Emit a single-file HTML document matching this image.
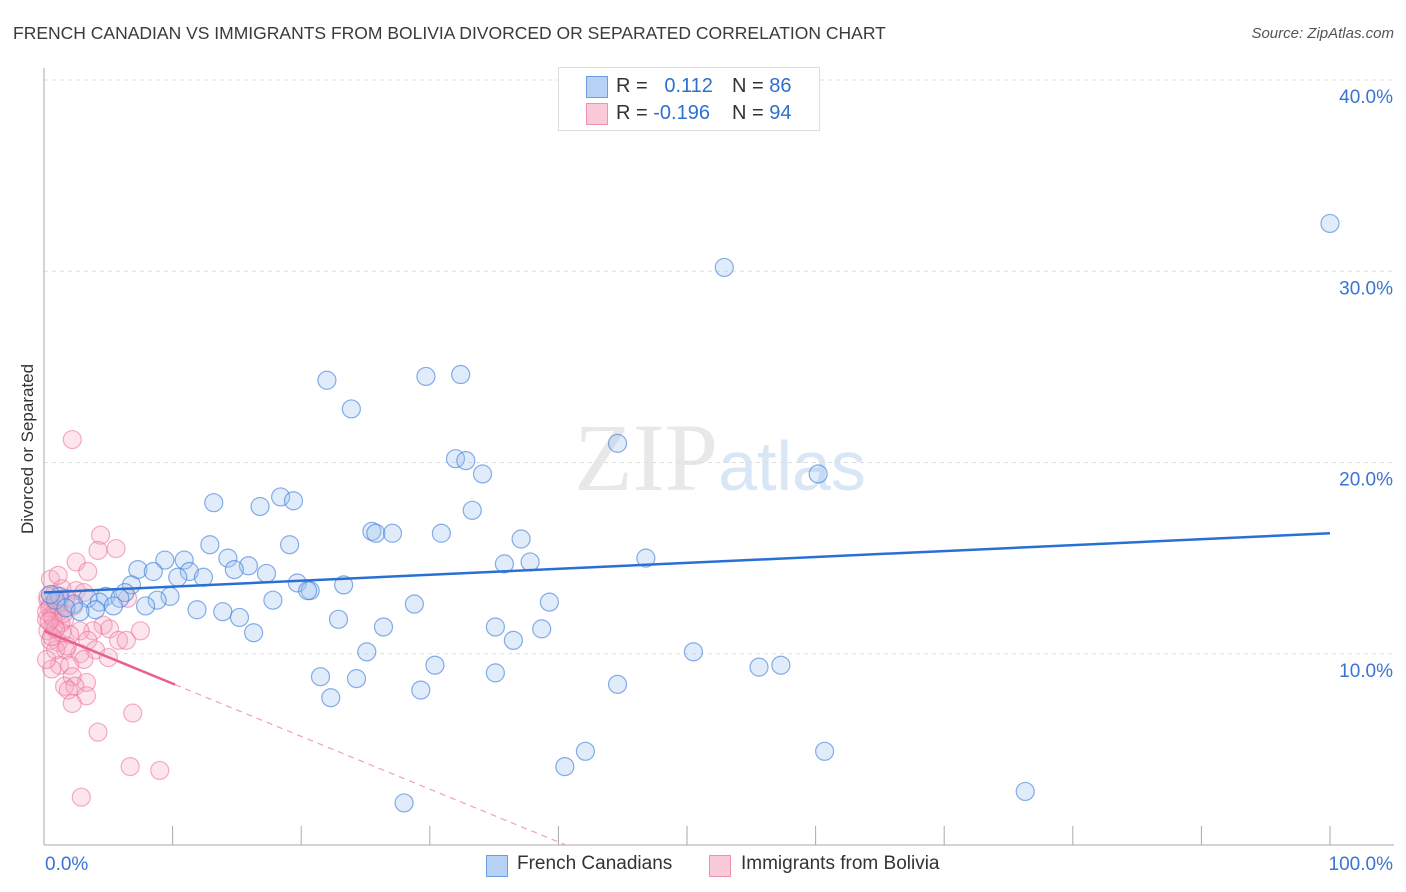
<!DOCTYPE html>
<html><head><meta charset="utf-8"><style>
body{margin:0;background:#fff;font-family:"Liberation Sans",sans-serif}
#wrap{position:relative;width:1406px;height:892px;overflow:hidden}
.t{position:absolute;white-space:nowrap}
</style></head><body>
<div id="wrap">
<div class="t" style="left:13px;top:23px;font-size:17.5px;color:#3a3a3a">FRENCH CANADIAN VS IMMIGRANTS FROM BOLIVIA DIVORCED OR SEPARATED CORRELATION CHART</div>
<div class="t" style="right:12px;top:25px;font-size:15px;color:#555;font-style:italic">Source: ZipAtlas.com</div>
<div class="t" style="left:-52px;top:444px;font-size:17px;color:#333;transform:rotate(-90deg);width:160px;text-align:center">Divorced or Separated</div>
<svg id="plot" width="1406" height="892" style="position:absolute;left:0;top:0">
<text x="720" y="490" text-anchor="middle" font-size="96" font-family="Liberation Serif" fill="#e8e8e8">ZIP<tspan font-family="Liberation Sans" font-size="70" fill="#d8e6f6">atlas</tspan></text>
</svg>
<div style="position:absolute;left:558px;top:67px;width:260px;height:62px;border:1px solid #ddd;background:#fff;font-size:20px;color:#333">
<div style="position:absolute;left:27px;top:8px;width:20px;height:20px;background:#b7d2f5;border:1px solid #6a9ee0"></div>
<div class="t" style="left:57px;top:7px">R = &nbsp;&nbsp;<span style="color:#2e6fd0">0.112</span></div>
<div class="t" style="left:173px;top:7px">N = <span style="color:#2e6fd0">86</span></div>
<div style="position:absolute;left:27px;top:35px;width:20px;height:20px;background:#fbcad8;border:1px solid #ef93ad"></div>
<div class="t" style="left:57px;top:34px">R = <span style="color:#2e6fd0">-0.196</span></div>
<div class="t" style="left:173px;top:34px">N = <span style="color:#2e6fd0">94</span></div>
</div>
<div style="position:absolute;left:486px;top:853px;font-size:19px;color:#333">
<div style="position:absolute;left:0;top:2px;width:20px;height:20px;background:#b7d2f5;border:1px solid #6a9ee0"></div>
<div class="t" style="left:31px;top:0">French Canadians</div>
<div style="position:absolute;left:223px;top:2px;width:20px;height:20px;background:#fbcad8;border:1px solid #ef93ad"></div>
<div class="t" style="left:255px;top:0">Immigrants from Bolivia</div>
</div>
</div>
<script>
const blueX=[100,52.9,22.0,29.7,32.4,23.9,44.6,32.0,32.8,34.1,60.2,18.4,19.4,13.2,16.8,33.3,25.5,25.8,27.1,30.9,37.1,12.9,19.1,46.8,10.9,14.3,9.4,15.9,35.8,37.8,7.3,8.5,14.8,11.3,17.3,10.4,12.4,6.8,19.7,23.3,20.7,20.5,6.3,4.8,5.9,3.4,1.2,9.8,8.8,17.8,4.3,5.4,7.9,39.3,28.8,2.3,4.0,11.9,13.9,15.2,22.9,26.4,35.1,38.7,16.3,36.5,25.1,50.5,55.6,57.3,30.4,35.1,21.5,24.3,29.3,44.6,22.3,42.1,60.7,40.5,76.3,28.0,0.9,0.5,1.7,2.8];
const blueY=[32.5,30.2,24.3,24.5,24.6,22.8,21.0,20.2,20.1,19.4,19.4,18.2,18.0,17.9,17.7,17.5,16.4,16.3,16.3,16.3,16.0,15.7,15.7,15.0,14.9,15.0,14.9,14.6,14.7,14.8,14.4,14.3,14.4,14.3,14.2,14.0,14.0,13.6,13.7,13.6,13.3,13.3,13.2,13.0,12.9,12.9,13.0,13.0,12.8,12.8,12.7,12.5,12.5,12.7,12.6,12.6,12.3,12.3,12.2,11.9,11.8,11.4,11.4,11.3,11.1,10.7,10.1,10.1,9.3,9.4,9.4,9.0,8.8,8.7,8.1,8.4,7.7,4.9,4.9,4.1,2.8,2.2,12.8,13.1,12.4,12.2];
const pinkX=[2.2,4.4,4.2,5.6,2.5,3.4,0.5,1.4,2.5,3.1,0.3,6.5,2.3,7.5,4.6,5.1,3.8,2.8,5.8,6.4,3.4,1.1,1.7,2.8,4.0,3.1,5.0,1.2,2.0,0.6,2.2,3.3,1.6,2.4,1.9,3.3,2.2,6.9,4.2,6.7,9.0,2.9,0.5,0.6,0.8,0.3,0.9,1.2,1.6,0.5,0.9,0.2,1.2,1.7,2.0,1.4,0.8,0.2,1.1,0.4,0.7,1.0,1.3,0.3,0.6,1.5,0.9,0.2,1.8,0.4];
const pinkY=[21.2,16.2,15.4,15.5,14.8,14.3,13.9,13.4,13.3,13.2,12.8,12.9,12.5,11.2,11.5,11.3,11.2,11.2,10.7,10.7,10.7,10.6,10.2,10.0,10.2,9.7,9.8,9.4,9.4,9.2,8.8,8.5,8.3,8.3,8.1,7.8,7.4,6.9,5.9,4.1,3.9,2.5,12.5,12.0,11.5,11.2,12.3,12.2,11.8,10.7,10.2,9.7,12.8,12.9,11.0,11.1,13.1,11.8,14.1,12.4,11.9,12.6,11.6,13.0,10.9,12.1,11.3,12.2,10.4,11.7];
const blueTrend=[13.2,16.3];
const pinkTrend=[11.2,-0.276];
const xTicks=["0.0%","100.0%"];
const yTicks=[10,20,30,40];
const yTickLabels=["10.0%","20.0%","30.0%","40.0%"];
const NS="http://www.w3.org/2000/svg";
const svg=document.getElementById('plot');
const sx=v=>44+v*12.86, sy=v=>845-v*19.125;
function mk(t,a){const e=document.createElementNS(NS,t);for(const k in a)e.setAttribute(k,a[k]);svg.appendChild(e);return e;}
yTicks.forEach((v,i)=>{
 const g=mk('line',{x1:44,x2:1394,y1:sy(v),y2:sy(v),stroke:'#ddd','stroke-dasharray':'4,4'});
 
 
 const t=mk('text',{x:1393,y:sy(v)+23,'text-anchor':'end','font-size':19,fill:'#3a74d0'});
 t.textContent=yTickLabels[i];
 
 
});
const ax=mk('line',{x1:44,x2:44,y1:68,y2:845,stroke:'#aaa'});


const bx=mk('line',{x1:44,x2:1394,y1:845,y2:845,stroke:'#aaa'});


for(let i=0;i<=10;i++){
 const tk=mk('line',{x1:sx(i*10),x2:sx(i*10),y1:826,y2:845,stroke:'#aaa'});
 
 
}
[[0,'start',45],[100,'end',1393]].forEach((d,i)=>{
 const t=mk('text',{x:d[2],y:870,'text-anchor':d[1],'font-size':19,fill:'#3a74d0'});
 t.textContent=xTicks[i];
 
 
});
pinkX.forEach((x,i)=>{
 const c=mk('circle',{cx:sx(x),cy:sy(pinkY[i]),r:9,fill:'rgba(246,170,195,0.3)',stroke:'rgba(236,110,150,0.55)','stroke-width':1.2});
 
 
});
blueX.forEach((x,i)=>{
 const c=mk('circle',{cx:sx(x),cy:sy(blueY[i]),r:9,fill:'rgba(160,196,240,0.32)',stroke:'rgba(70,130,220,0.65)','stroke-width':1.2});
 
 
});
const bl=mk('line',{x1:sx(0),y1:sy(blueTrend[0]),x2:sx(100),y2:sy(blueTrend[1]),stroke:'#2a6fd4','stroke-width':2.5});


const pe=-pinkTrend[0]/pinkTrend[1];
const pl=mk('line',{x1:sx(0),y1:sy(pinkTrend[0]),x2:sx(10.2),y2:sy(pinkTrend[0]+pinkTrend[1]*10.2),stroke:'#e8608c','stroke-width':2.5});


const pd=mk('line',{x1:sx(10.2),y1:sy(pinkTrend[0]+pinkTrend[1]*10.2),x2:sx(pe),y2:sy(0),stroke:'#f0a0b8','stroke-width':1.2,'stroke-dasharray':'6,5'});


</script>
</body></html>
